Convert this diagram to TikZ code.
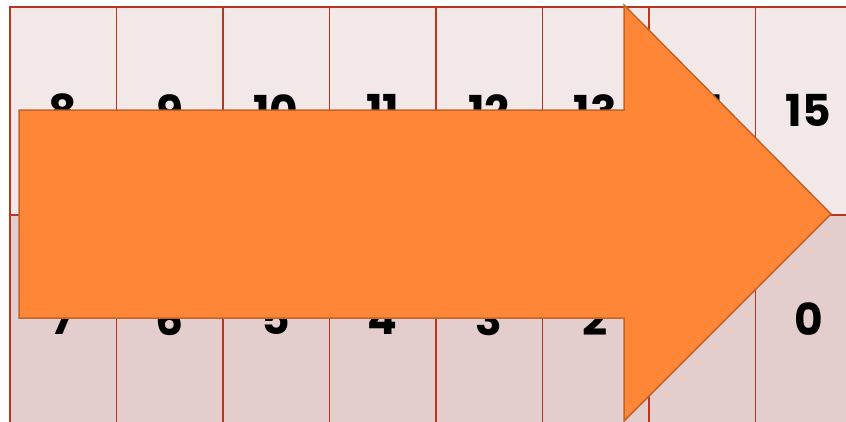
\documentclass[tikz,border=0pt]{standalone}
\usepackage{fontspec}
\setmainfont{Poppins}
\usepackage{xcolor}
\usepackage{tikz}
\usetikzlibrary{positioning}

\definecolor{cellhi}{HTML}{F2E8E8}
\definecolor{celllo}{HTML}{E4CDCD}
\definecolor{cellline}{HTML}{B8361F}
\definecolor{arrowfill}{HTML}{FE8636}
\definecolor{arrowline}{HTML}{C0652A}

\begin{document}
\begin{tikzpicture}[
        x=1pt, y=-1pt,
        cell/.style={rectangle, draw=cellline, line width=1.6pt, minimum width=106.5pt, minimum height=208pt, inner sep=0pt, anchor=north west, font=\fontsize{44}{44}\selectfont\bfseries},
        bigarrow/.style={fill=arrowfill, draw=arrowline, line width=1.5pt, line join=miter}
    ]
    \useasboundingbox (0,0) rectangle (846,421);
    \clip (0,0) rectangle (846,421);

    % bits, high byte on top
    \foreach \i [evaluate=\i as \hi using int(8+\i), evaluate=\i as \lo using int(7-\i)] in {0,...,7} {
        \node[cell, fill=cellhi] (top\i) at (9+106.5*\i, 6) {\hi};
        \node[cell, fill=celllo] (bot\i) at (9+106.5*\i, 214) {\lo};
    }

    % shift arrow
    \draw[bigarrow] (19,110) -- (624,110) -- (624,5) -- (831,214) -- (624,421) -- (624,318) -- (19,318) -- cycle;
\end{tikzpicture}
\end{document}
